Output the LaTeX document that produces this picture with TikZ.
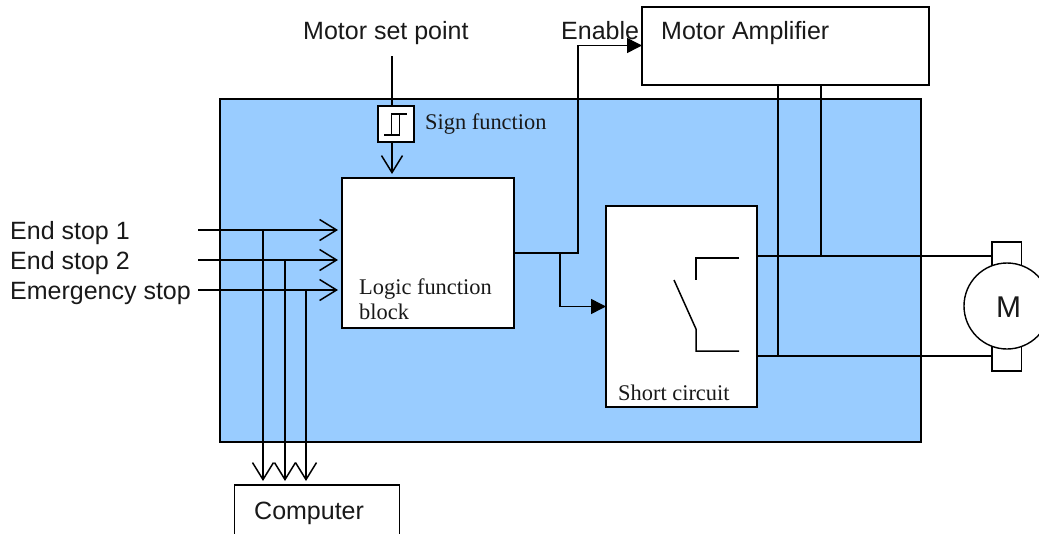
\documentclass[tikz,border=0pt]{standalone}
\usepackage{fontspec}
\setmainfont{Liberation Serif}
\setsansfont{Liberation Sans}
\usetikzlibrary{arrows.meta,calc}
\definecolor{panelblue}{HTML}{99CCFF}
\tikzset{
  wire/.style={draw=black,line width=1.5pt},
  thinwire/.style={draw=black,line width=1.2pt},
  openarrow/.style={wire,-{Straight Barb[length=17pt,width=21pt,line width=1.5pt]}},
  solidarrow/.style={wire,-{Triangle[length=15pt,width=15pt]}},
  block/.style={draw=black,fill=white,line width=1.4pt,inner sep=0pt,outer sep=0pt},
  sanslabel/.style={font=\sffamily\fontsize{25}{29}\selectfont,anchor=base west,inner sep=0pt,text=black!90},
  seriflabel/.style={font=\rmfamily\fontsize{22.4}{26}\selectfont,anchor=base west,inner sep=0pt,text=black!90},
}
\begin{document}
\begin{tikzpicture}[x=1pt,y=-1pt]
\useasboundingbox (0,0) rectangle (1039,533);
\clip (0,0) rectangle (1039,533);
% panel and boxes
\node[block,fill=panelblue,minimum width=701pt,minimum height=343pt] (panel) at (570.5,270.5) {};
\node[block,minimum width=172pt,minimum height=150pt] (logic) at (428,253) {};
\node[block,minimum width=151pt,minimum height=201pt] (short) at (681.5,306.5) {};
\node[block,minimum width=36pt,minimum height=36pt] (sign) at (396,124) {};
\node[block,minimum width=287pt,minimum height=78pt] (amp) at (785.5,46) {};
\node[block,minimum width=164.5pt,minimum height=80pt] (computer) at (317,525) {};
\node[block,minimum width=29.5pt,minimum height=129pt] (brush) at (1006.75,306.5) {};
\node[block,circle,minimum size=86pt] (motor) at (1007,306) {};
% labels
\node[sanslabel] (lset) at (303,39) {Motor set point};
\node[sanslabel] (lenable) at (561,39) {Enable};
\node[sanslabel] (lamp) at (661,39) {Motor Amplifier};
\node[sanslabel] (les1) at (10,239) {End stop 1};
\node[sanslabel] (les2) at (10,269) {End stop 2};
\node[sanslabel] (lemg) at (10,299) {Emergency stop};
\node[sanslabel] (lcomp) at (254,519) {Computer};
\node[sanslabel,font=\sffamily\fontsize{30}{34}\selectfont] (lm) at (996,317.5) {M};
\node[seriflabel] (lsign) at (425,129) {Sign function};
\node[seriflabel] (llogic1) at (359,294) {Logic function};
\node[seriflabel] (llogic2) at (359,319) {block};
\node[seriflabel] (lshort) at (618,400) {Short circuit};
% free ends and junctions
\coordinate (setstart) at (392,56);
\coordinate (in1) at (198,230);
\coordinate (in2) at (198,260);
\coordinate (in3) at (198,290);
\coordinate (j1) at (263,230);
\coordinate (j2) at (285,260);
\coordinate (j3) at (306,290);
\coordinate (logicout) at (514,253);
\coordinate (jsplit) at (560,253);
\coordinate (jup) at (578,253);
\coordinate (upper) at (757,256);
\coordinate (lower) at (757,356);
\coordinate (ampa) at (778,85);
\coordinate (ampb) at (821,85);
\coordinate (ja) at (778,356);
\coordinate (jb) at (821,256);
% connectors
\draw[wire] (setstart) -- (setstart |- sign.north);
\draw[openarrow,shorten >=4pt] (setstart |- sign.south) -- (setstart |- logic.north);
\draw[openarrow,shorten >=4pt] (in1) -- (in1 -| logic.west);
\draw[openarrow,shorten >=4pt] (in2) -- (in2 -| logic.west);
\draw[openarrow,shorten >=4pt] (in3) -- (in3 -| logic.west);
\draw[openarrow,shorten >=4pt] (j1) -- (j1 |- computer.north);
\draw[openarrow,shorten >=4pt] (j2) -- (j2 |- computer.north);
\draw[openarrow,shorten >=4pt] (j3) -- (j3 |- computer.north);
\draw[solidarrow] (logicout) -- (jup) |- (amp.west |- 0,45.5);
\draw[solidarrow] (jsplit) |- (short.west |- 0,306.5);
\draw[thinwire] (upper) -- (upper -| brush.west);
\draw[thinwire] (lower) -- (lower -| brush.west);
\draw[wire] (ampa) -- (ja);
\draw[wire] (ampb) -- (jb);
% switch symbol
\draw[wire] (739,258) -- (696,258) -- (696,280);
\draw[wire] (674,280) -- (696,329) -- (696,351) -- (739,351);
% sign symbol
\draw[wire] (384.3,135) -- (399.3,135) -- (399.3,114);
\draw[wire] (406.7,114) -- (391.7,114) -- (391.7,135);
\end{tikzpicture}
\end{document}
